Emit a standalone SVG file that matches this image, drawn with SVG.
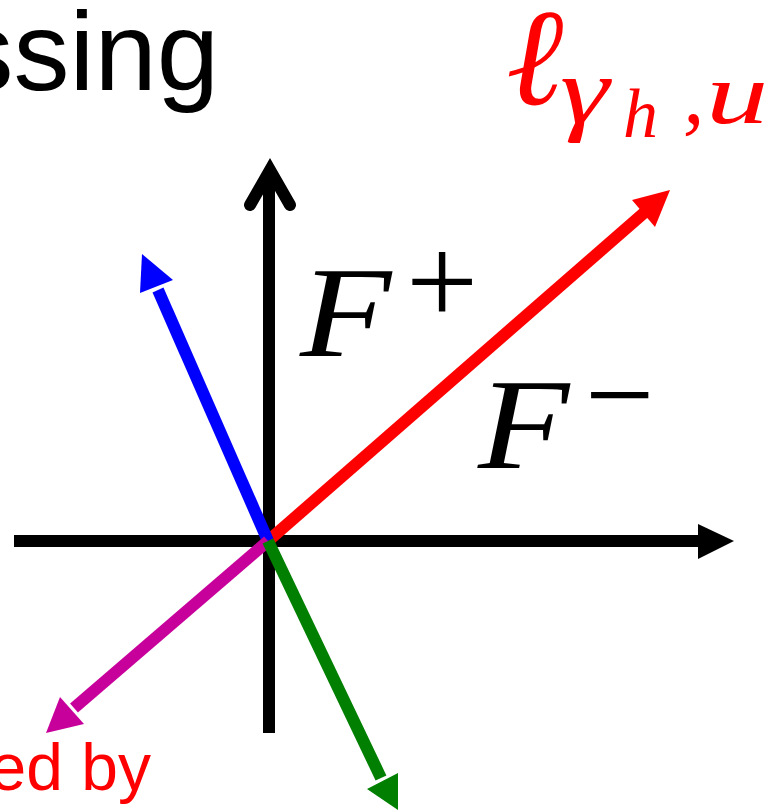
<svg xmlns="http://www.w3.org/2000/svg" width="768" height="811" viewBox="0 0 768 811">
<style>
.ax{stroke:#000;stroke-width:12;fill:none}
.v{stroke-width:12;fill:none;stroke-linecap:butt}
.sans{font-family:"Liberation Sans",Arial,sans-serif}
.mi{font-family:"Liberation Serif","Times New Roman",serif;font-style:italic}
.rm{font-family:"Liberation Serif","Times New Roman",serif}
</style>
<rect width="768" height="811" fill="#fff"/>
<g id="title"><text class="sans" x="219" y="90" font-size="112" text-anchor="end" fill="#000">ssing</text></g>
<g id="caption"><text class="sans" x="151" y="790" font-size="66" text-anchor="end" fill="#f00">ed by</text></g>
<g id="connectors">
<g id="axis-x"><line class="ax" x1="14" y1="541" x2="702" y2="541"/><polygon points="698,524 734,541 698,559" fill="#000"/></g>
<g id="axis-y"><line class="ax" x1="269" y1="733" x2="269" y2="172"/><polyline class="ax" points="250,205 270,170 290,205" stroke-linecap="round" stroke-linejoin="miter"/></g>
<g id="red-arrow"><line class="v" stroke="#f00" x1="268" y1="541" x2="645" y2="212"/><polygon points="670,190 632,200 655,227" fill="#f00"/></g>
<g id="blue-arrow"><line class="v" stroke="#00f" x1="268" y1="541" x2="158" y2="290"/><polygon points="142,254 140,293 173,280" fill="#00f"/></g>
<g id="magenta-arrow"><line class="v" stroke="#c8009b" x1="268" y1="541" x2="74" y2="708"/><polygon points="46,733 60,697 84,724" fill="#c8009b"/></g>
<g id="green-arrow"><line class="v" stroke="#007f00" x1="268" y1="541" x2="381" y2="778"/><polygon points="398,810 367,789 398,773" fill="#007f00"/></g>
</g>
<g id="label-l" fill="#f00">
<text x="506" y="104" font-family="'DejaVu Serif',serif" font-style="italic" font-size="138">ℓ</text>
<text class="mi" font-size="86" transform="translate(560,123) scale(1.45,1.1)">γ</text>
<text class="mi" font-size="70" x="623" y="137">h</text>
<text class="mi" font-size="86" x="683" y="123">,</text>
<text class="mi" font-size="86" transform="translate(706,123) scale(1.45,1)">u</text>
</g>
<g id="label-fplus"><text class="mi" font-size="130" transform="translate(300,356) scale(1.15,1)" fill="#000">F</text><text class="rm" font-size="128" x="406" y="324" fill="#000">+</text></g>
<g id="label-fminus"><text class="mi" font-size="130" transform="translate(478,468) scale(1.15,1)" fill="#000">F</text><text class="rm" font-size="123" x="585" y="436" fill="#000">−</text></g>
</svg>
